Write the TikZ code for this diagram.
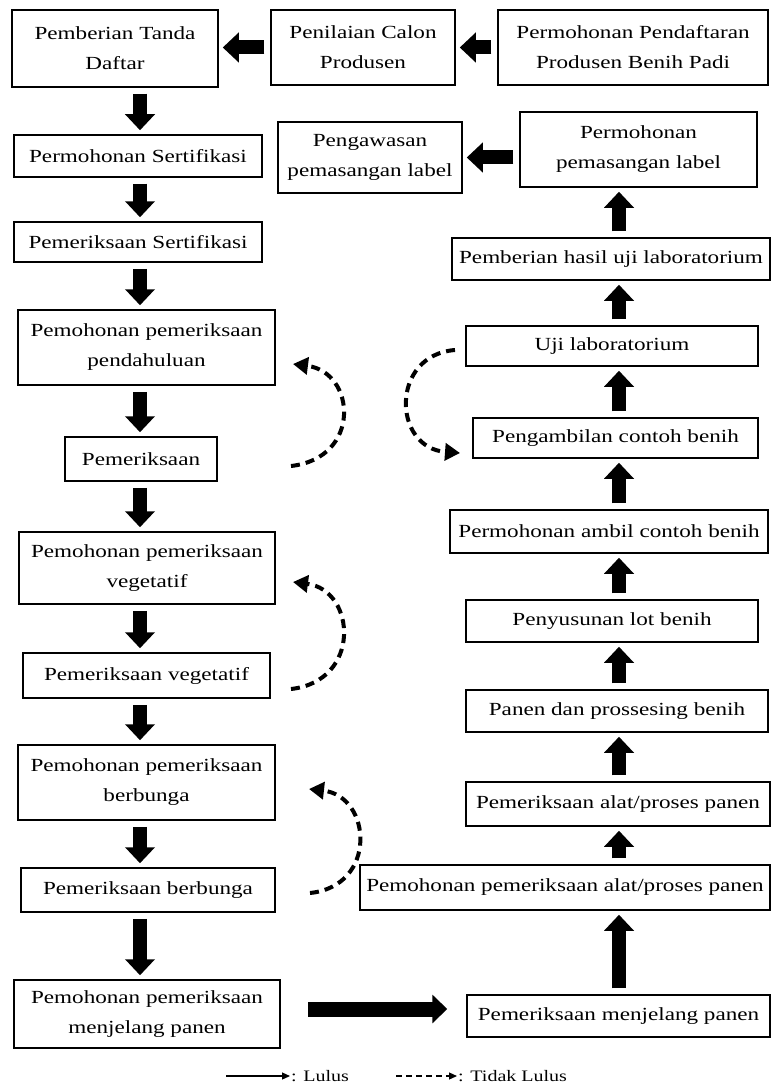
\documentclass[tikz,border=0pt]{standalone}
\usepackage{fontspec}
\setmainfont{Liberation Serif}[FakeStretch=1.25]
\usetikzlibrary{arrows.meta,calc}
\begin{document}
\begin{tikzpicture}[x=1pt,y=-1pt,
  box/.style={draw, line width=1.5pt, align=center, inner sep=0pt, font=\fontsize{18.5}{30}\selectfont},
  fat/.style={line width=14pt, -{Triangle[length=16pt,width=29pt]}, shorten <=6pt, shorten >=4pt},
  big/.style={line width=15pt, -{Triangle[length=15pt,width=28pt]}},
  fail/.style={line width=4pt, dash pattern=on 9pt off 6pt, -{Triangle[length=15pt,width=17pt]}},
  legtxt/.style={anchor=west, inner sep=1pt, font=\fontsize{16}{18}\selectfont}]
\useasboundingbox (0,0) rectangle (772,1086);
\fill[white] (0,0) rectangle (772,1086);
% columns
\coordinate (cl) at (140,0);
\coordinate (cr) at (619,0);
% top row
\node[box, minimum width=206pt, minimum height=77pt] (A) at (115,48.5) {Pemberian Tanda\\Daftar};
\node[box, minimum width=184pt, minimum height=75pt] (B) at (363,47.5) {Penilaian Calon\\Produsen};
\node[box, minimum width=270pt, minimum height=75pt] (C) at (633,47.5) {Permohonan Pendaftaran\\Produsen Benih Padi};
% left column
\node[box, minimum width=248pt, minimum height=42pt] (D) at (138,156) {Permohonan Sertifikasi};
\node[box, minimum width=248pt, minimum height=40pt] (E) at (138,242) {Pemeriksaan Sertifikasi};
\node[box, minimum width=257pt, minimum height=75pt] (F) at (146.5,347.5) {Pemohonan pemeriksaan\\pendahuluan};
\node[box, minimum width=152pt, minimum height=44pt] (G) at (141,459) {Pemeriksaan};
\node[box, minimum width=256pt, minimum height=72pt] (H) at (147,568) {Pemohonan pemeriksaan\\vegetatif};
\node[box, minimum width=247pt, minimum height=45pt] (I) at (146.5,675.5) {Pemeriksaan vegetatif};
\node[box, minimum width=257pt, minimum height=75pt] (J) at (146.5,782.5) {Pemohonan pemeriksaan\\berbunga};
\node[box, minimum width=254pt, minimum height=44pt] (K) at (148,890) {Pemeriksaan berbunga};
\node[box, minimum width=266pt, minimum height=68pt] (L) at (147,1014) {Pemohonan pemeriksaan\\menjelang panen};
% right column
\node[box, minimum width=184pt, minimum height=71pt] (M) at (370,157.5) {Pengawasan\\pemasangan label};
\node[box, minimum width=237pt, minimum height=75pt] (N) at (638.5,149.5) {Permohonan\\pemasangan label};
\node[box, minimum width=318pt, minimum height=42pt] (O) at (611,259) {Pemberian hasil uji laboratorium};
\node[box, minimum width=292pt, minimum height=40pt] (P) at (612,346) {Uji laboratorium};
\node[box, minimum width=285pt, minimum height=40pt] (Q) at (615.5,438) {Pengambilan contoh benih};
\node[box, minimum width=318pt, minimum height=43pt] (R) at (609,531.5) {Permohonan ambil contoh benih};
\node[box, minimum width=292pt, minimum height=42pt] (S) at (612,621) {Penyusunan lot benih};
\node[box, minimum width=302pt, minimum height=42pt] (T) at (617,711) {Panen dan prossesing benih};
\node[box, minimum width=304pt, minimum height=44pt] (U) at (618,804) {Pemeriksaan alat/proses panen};
\node[box, minimum width=410pt, minimum height=45pt] (V) at (565,887.5) {Pemohonan pemeriksaan alat/proses panen};
\node[box, minimum width=303pt, minimum height=42pt] (W) at (618.5,1016) {Pemeriksaan menjelang panen};
% top row arrows
\draw[fat] (C.west) -- (C.west -| B.east);
\draw[fat] (B.west) -- (B.west -| A.east);
\draw[fat] (N.west |- M.east) -- (M.east);
% left column arrows
\draw[fat] (A.south -| cl) -- (D.north -| cl);
\draw[fat] (D.south -| cl) -- (E.north -| cl);
\draw[fat] (E.south -| cl) -- (F.north -| cl);
\draw[fat] (F.south -| cl) -- (G.north -| cl);
\draw[fat] (G.south -| cl) -- (H.north -| cl);
\draw[fat] (H.south -| cl) -- (I.north -| cl);
\draw[fat] (I.south -| cl) -- (J.north -| cl);
\draw[fat] (J.south -| cl) -- (K.north -| cl);
\draw[fat] (K.south -| cl) -- (L.north -| cl);
% right column arrows (upward)
\draw[fat] (W.north -| cr) -- (V.south -| cr);
\draw[fat] (V.north -| cr) -- (U.south -| cr);
\draw[fat] (U.north -| cr) -- (T.south -| cr);
\draw[fat] (T.north -| cr) -- (S.south -| cr);
\draw[fat] (S.north -| cr) -- (R.south -| cr);
\draw[fat] (R.north -| cr) -- (Q.south -| cr);
\draw[fat] (Q.north -| cr) -- (P.south -| cr);
\draw[fat] (P.north -| cr) -- (O.south -| cr);
\draw[fat] (O.north -| cr) -- (N.south -| cr);
% big arrow
\coordinate (bigs) at (308,1009);
\draw[big] (bigs) -- (bigs -| W.west) [shorten >=19pt];
% dashed (not passed) arcs
\coordinate (g1) at (291,466); \coordinate (f1) at (293,364);
\draw[fail] (g1) .. controls (362,458) and (356,372) .. (f1);
\coordinate (p1) at (455,350); \coordinate (q1) at (460,453);
\draw[fail] (p1) .. controls (390,355) and (392,448) .. (q1);
\coordinate (i1) at (291,689); \coordinate (h1) at (293,582);
\draw[fail] (i1) .. controls (362,681) and (356,590) .. (h1);
\coordinate (k1) at (310,893); \coordinate (j1) at (309,789);
\draw[fail] (k1) .. controls (378,886) and (372,796) .. (j1);
% legend
\coordinate (la) at (226,1076); \coordinate (lb) at (290,1076);
\draw[line width=1.2pt, -{Triangle[length=8pt,width=7pt]}] (la) -- (lb);
\node[legtxt] (lt1) at (lb) {: Lulus};
\coordinate (da) at (396,1076); \coordinate (db) at (457,1076);
\draw[line width=1.2pt, dash pattern=on 6pt off 4pt, -{Triangle[length=8pt,width=7pt]}] (da) -- (db);
\node[legtxt] (lt2) at (db) {: Tidak Lulus};
\end{tikzpicture}
\end{document}
